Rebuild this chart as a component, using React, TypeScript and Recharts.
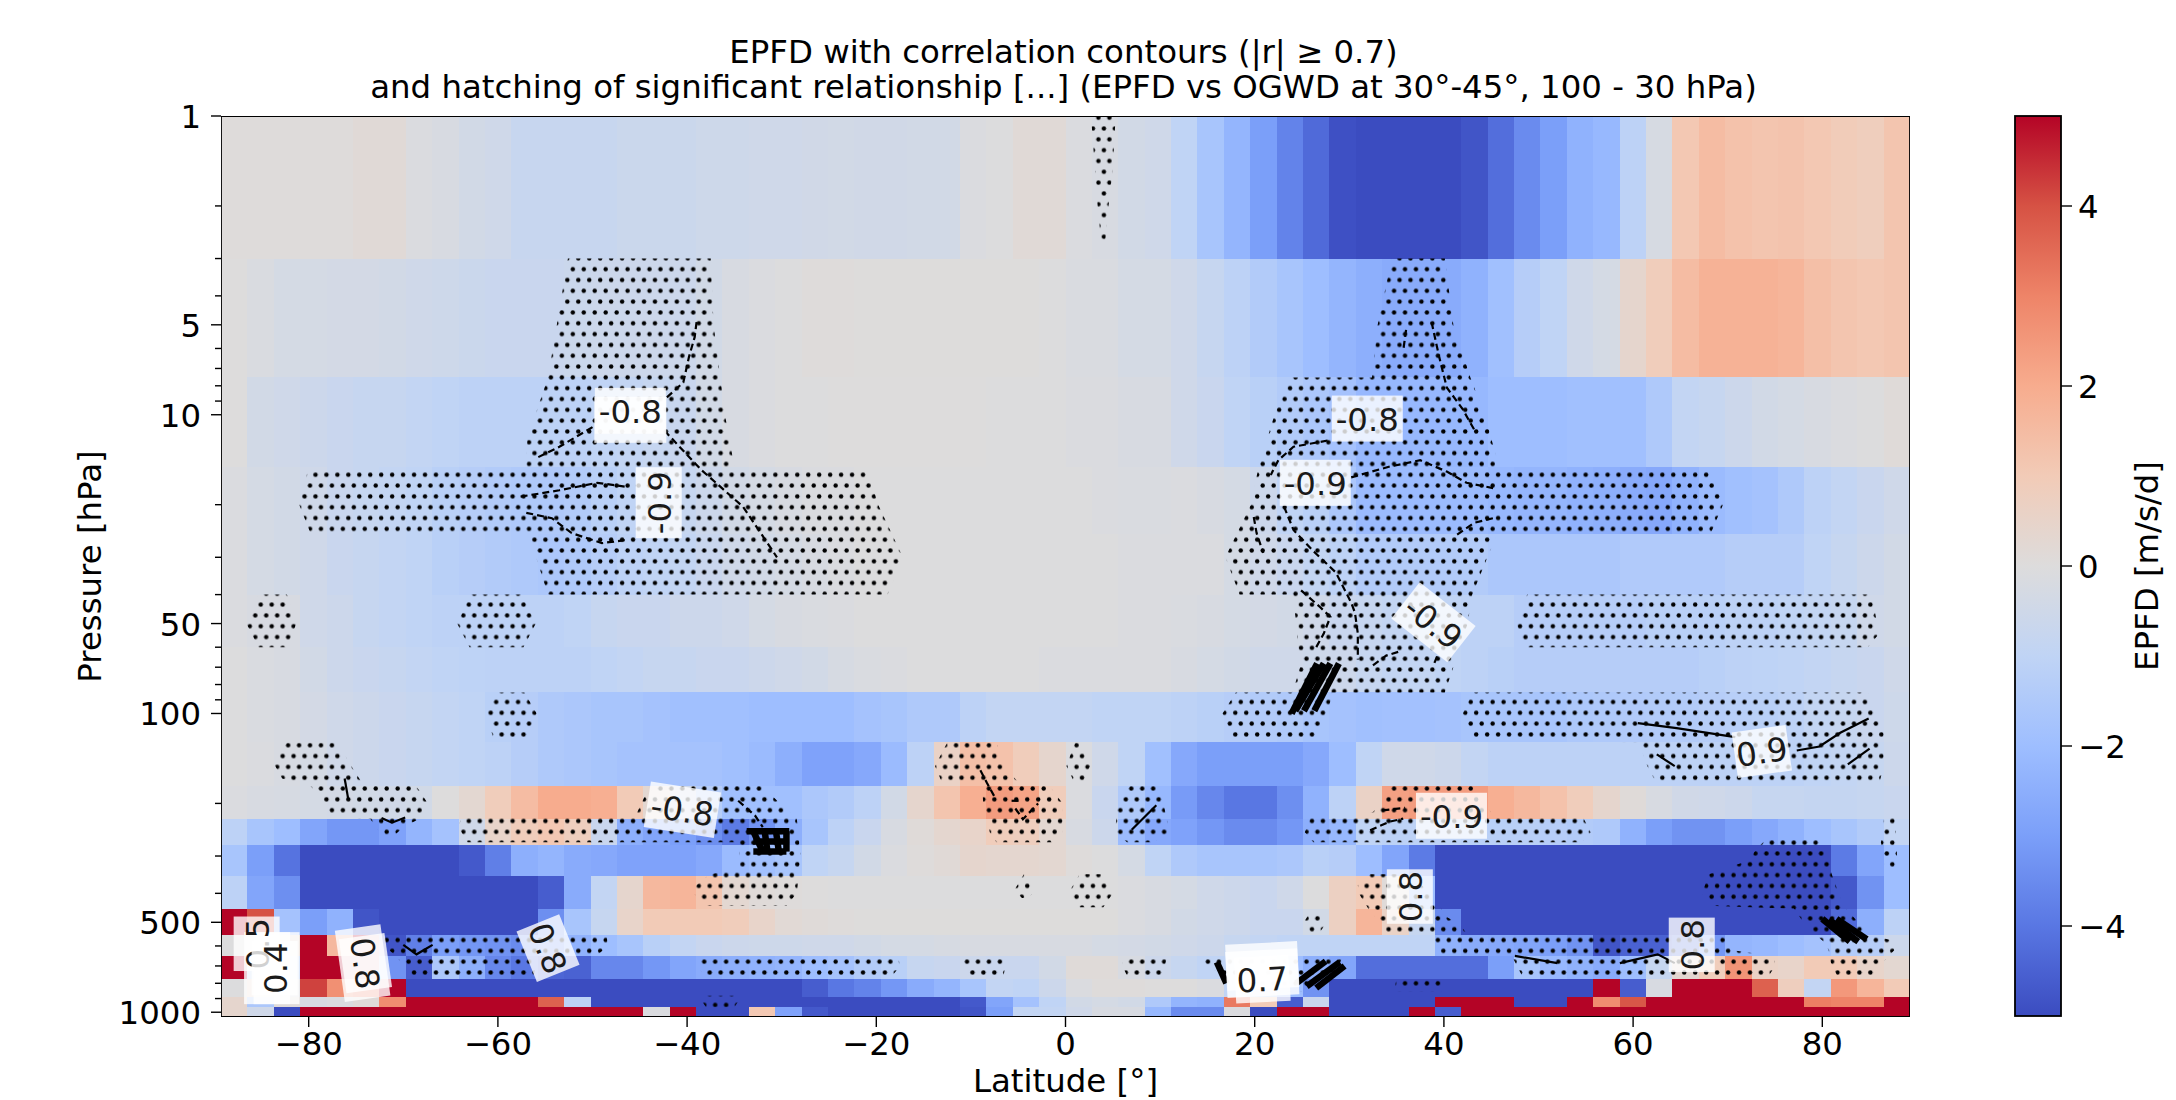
import React from "react";
import { ScatterChart, Scatter, XAxis, YAxis } from "recharts";

const FONT = "'DejaVu Sans', sans-serif";
const TEXT_SIZE = 32.4;

// cell edges of the pcolormesh
const latEdges = [
  -89.27, -86.48, -83.69, -80.9, -78.11, -75.32, -72.53, -69.74, -66.95, -64.16, -61.37, -58.58, -55.79, -53, -50.21, -47.42,
  -44.63, -41.84, -39.05, -36.26, -33.47, -30.68, -27.89, -25.1, -22.31, -19.52, -16.73, -13.94, -11.15, -8.37, -5.58, -2.79,
  0, 2.79, 5.58, 8.37, 11.15, 13.94, 16.73, 19.52, 22.31, 25.1, 27.89, 30.68, 33.47, 36.26, 39.05, 41.84,
  44.63, 47.42, 50.21, 53, 55.79, 58.58, 61.37, 64.16, 66.95, 69.74, 72.53, 75.32, 78.11, 80.9, 83.69, 86.48, 89.27,
];
const pressureEdges = [1, 3, 7.5, 15, 25, 40, 60, 85, 125, 175, 225, 275, 350, 450, 550, 650, 775, 887.5, 962.5, 1037.5];

// EPFD [m/s/d], one list per pressure level, south to north
const epfd1 = [
  .06, .06, .06, .06, .06, .15, .15, -.1, -.2, -.4, -.5, -.75, -.75, -.75, -.75, -.65,
  -.65, -.65, -.55, -.55, -.5, -.5, -.45, -.4, -.45, -.45, -.4, -.4, -.1, -.05, .15, .15,
  -.1, -.2, -.4, -.5, -1, -1.7, -2.3, -3, -3.7, -4.3, -4.9, -5, -5, -5, -5, -4.8,
  -4.2, -3.5, -3, -2.4, -2.2, -1.1, -.25, 1.1, 1.5, 1.3, 1.2, 1.25, 1.1, .95, .85, 1.2,
];
const epfd5 = [
  0, -.15, -.3, -.3, -.35, -.35, -.4, -.5, -.55, -.65, -.7, -.7, -.7, -.65, -.6, -.6,
  -.6, -.6, -.4, -.2, -.1, -.05, .05, .05, .02, .02, .02, .02, .02, .02, .02, -.05,
  -.15, -.15, -.3, -.3, -.5, -.8, -1.1, -1.4, -1.7, -2, -2.3, -2.5, -2.6, -2.6, -2.6, -2.4,
  -1.9, -1.3, -1, -.5, -.3, .4, .9, 1.5, 1.8, 1.8, 1.8, 1.7, 1.4, 1.2, 1.1, 1.2,
];
const epfd10 = [
  0, -.4, -.5, -.6, -.7, -.8, -.8, -.9, -1, -1.1, -1.1, -1.1, -1.1, -1.1, -1, -.9,
  -.8, -.7, -.4, -.2, -.1, -.05, -.05, 0, 0, 0, 0, 0, 0, -.02, -.02, -.02,
  -.1, -.1, -.2, -.2, -.5, -.7, -1, -1.2, -1.4, -1.6, -1.8, -2.2, -2.2, -2.2, -2.2, -2.2,
  -2, -2, -2, -1.9, -1.9, -1.9, -1.5, -.9, -.8, -.6, -.4, -.3, -.2, -.1, -.05, .1,
];
const epfd20 = [
  -.1, -.3, -.4, -.5, -.7, -.8, -.9, -1, -1.2, -1.3, -1.4, -1.5, -1.5, -1.4, -1.2, -1,
  -.9, -.8, -.6, -.4, -.3, -.2, -.1, -.1, -.03, -.03, -.03, -.03, -.03, -.03, -.03, -.03,
  -.03, -.1, -.15, -.15, -.1, -.2, -.3, -.6, -1, -1.2, -1.6, -2.1, -2.1, -2.1, -2.1, -2.1,
  -2.2, -2.3, -2.3, -2.4, -2.5, -2.6, -2.7, -2.4, -2.1, -1.9, -1.8, -1.5, -1.1, -.9, -.7, -.5,
];
const epfd30 = [
  -.1, -.3, -.4, -.5, -.7, -.8, -.9, -1, -1.2, -1.3, -1.4, -1.5, -1.6, -1.5, -1.3, -1.1,
  -1, -.9, -.7, -.5, -.4, -.3, -.2, -.1, -.05, -.05, -.02, -.02, -.02, -.02, -.02, -.02,
  -.02, -.02, -.1, -.1, -.1, -.1, -.3, -.5, -.7, -.9, -1.1, -1.4, -1.4, -1.4, -1.4, -1.4,
  -1.6, -1.6, -1.6, -1.6, -1.6, -1.45, -1.45, -1.45, -1.45, -1.3, -1.3, -1.3, -1, -.8, -.6, -.4,
];
const epfd50 = [
  -.1, -.2, -.2, -.5, -.6, -.8, -.9, -1, -1.1, -1.1, -1.1, -1.1, -1.1, -1, -.8, -.7,
  -.7, -.6, -.6, -.5, -.3, -.2, -.15, -.1, -.05, -.02, -.02, -.02, -.02, -.03, -.03, -.03,
  -.03, -.03, -.1, -.1, -.15, -.2, -.3, -.35, -.4, -.5, -.7, -.8, -.9, -1, -1, -1.1,
  -1.1, -1.3, -1.3, -1.3, -1.3, -1.3, -1.2, -1.2, -1.2, -1.1, -1.1, -1, -.9, -.8, -.5, -.4,
];
const epfd70 = [
  -.05, -.15, -.2, -.4, -.6, -.7, -.8, -.9, -1, -1.05, -1.1, -1.1, -1.1, -1.1, -1, -.9,
  -.8, -.8, -.7, -.7, -.6, -.5, -.4, -.25, -.15, -.1, -.05, -.05, -.02, -.03, -.03, -.1,
  -.1, -.1, -.1, -.1, -.2, -.3, -.4, -.5, -.5, -.55, -.6, -.8, -.9, -.9, -1, -1.1,
  -1.2, -1.3, -1.3, -1.3, -1.3, -1.3, -1.3, -1.3, -1.2, -1.1, -1.05, -1, -.9, -.8, -.7, -.5,
];
const epfd100 = [
  -.05, -.15, -.2, -.35, -.5, -.6, -.7, -.8, -.9, -1, -1.2, -1.3, -1.5, -1.6, -1.7, -1.7,
  -1.8, -1.9, -1.9, -1.9, -2, -2, -2, -2, -1.8, -1.7, -1.5, -1.5, -1.1, -.9, -.9, -.9,
  -.9, -1, -1, -1, -1.1, -1.2, -1.3, -1.4, -1.5, -1.7, -1.8, -1.9, -1.85, -1.85, -1.8, -1.7,
  -1.7, -1.7, -1.7, -1.55, -1.5, -1.45, -1.4, -1.4, -1.3, -1.25, -1.2, -1.1, -.9, -.8, -.7, -.55,
];
const epfd150 = [
  -.05, -.1, -.2, -.3, -.5, -.6, -.7, -.8, -.9, -1, -1.1, -1.3, -1.5, -1.6, -1.7, -1.8,
  -1.8, -1.8, -1.8, -1.9, -2.1, -2.5, -2.9, -2.9, -2.7, -2.1, -1.1, .6, 1.4, 1.3, .9, .4,
  -.1, -.5, -1, -1.9, -2.7, -3, -3, -3, -3, -2.7, -2, -1, -.5, -.5, -.6, -.9,
  -1.1, -1.1, -1.1, -1.1, -1.1, -1.1, -1.1, -1.1, -1.1, -1.1, -1.1, -1.1, -1, -.9, -.8, -.6,
];
const epfd200 = [
  -.1, -.2, -.25, -.3, -.35, -.4, -.45, -.4, 0, .3, .9, 1.5, 2, 2, 1.9, 1,
  .3, -.5, -1.3, -1.9, -1.9, -1.9, -1.6, -1.4, -1.1, -.4, .4, 1.2, 1.9, 2.4, 2.2, .9,
  -.1, -.7, -1.5, -2.2, -3.1, -3.6, -4, -4, -3.4, -2.4, -1.1, .6, 2.3, 2.4, 2.4, 2.4,
  1.9, 1.6, 1.3, .9, .4, .1, -.2, -.45, -.5, -.6, -.8, -.8, -.85, -.85, -.8, -.7,
];
const epfd250 = [
  -1.1, -1.7, -2, -2.8, -3.2, -3.2, -2.9, -2.3, -1.8, -.5, .5, .9, 1.1, .8, -.7, -2.5,
  -2.8, -3, -3.4, -3.9, -3.3, -2.5, -1.7, -1.1, -.7, -.2, .1, .35, .5, .9, .8, .3,
  -.2, -.6, -2.1, -2.7, -2.9, -3.2, -3.5, -3.5, -3.2, -2.5, -2.2, -1, -1.1, -1.1, -1.1, -1.2,
  -1.2, -1.2, -1.3, -1.4, -1.5, -2.4, -3, -3.3, -3.3, -3, -2.7, -2.4, -2, -1.7, -1.4, -.9,
];
const epfd300 = [
  -1.7, -3, -4.1, -5, -5, -5, -5, -5, -5, -4.7, -3.8, -2.5, -2.3, -2.6, -2.7, -2.9,
  -2.9, -2.9, -2.7, -2.1, -1.9, -1.7, -1, -.8, -.4, -.1, .05, .15, .4, .35, .35, .3,
  .05, -.05, -.3, -1, -1.5, -1.7, -1.7, -1.7, -1.6, -1.2, -1.3, -2, -2.8, -3.9, -5, -5,
  -5, -5, -5, -5, -5, -5, -5, -5, -5, -5, -5, -5, -5, -3.9, -2.8, -2,
];
const epfd400 = [
  -1.1, -2.8, -3.4, -5, -5, -5, -5, -5, -5, -5, -5, -5, -4.6, -2.6, -.9, .4,
  1.6, 1.7, 1.2, .3, .1, .05, 0, -.03, -.03, -.03, -.03, -.03, -.03, -.05, -.05, -.05,
  -.05, -.05, -.1, -.2, -.3, -.5, -.6, -.7, -.5, -.05, .7, 1, .1, -2, -5, -5,
  -5, -5, -5, -5, -5, -5, -5, -5, -5, -5, -5, -5, -5, -4.7, -3.3, -2,
];
const epfd500 = [
  5, 4, -1.8, -3, -2.4, -4.8, -5, -5, -5, -5, -5, -5, -3.4, -1.7, -.8, .5,
  1, 1, 1, .9, .5, .2, .1, .05, .02, .02, .02, .02, .02, .02, .02, .02,
  .02, .02, -.1, -.2, -.4, -.5, -.6, -.7, -.7, -.4, .7, 1.7, .6, -.8, -3.5, -5,
  -5, -5, -5, -5, -5, -5, -5, -5, -5, -5, -5, -5, -5, -4.3, -2.5, -1.1,
];
const epfd600 = [
  -.03, -.2, .4, 5, 1.6, 5, -4.8, -3.8, -3, -3.2, -3.3, -3.5, -3.2, -2.4, -2, -1.7,
  -1.2, -.9, -.7, -.6, -.55, -.55, -.5, -.5, -.4, -.3, -.3, -.25, -.2, -.2, -.2, -.2,
  -.2, -.3, -.35, -.4, -.5, -.6, -.8, -.9, -1, -1, -1, -1, -1, -1, -2.4, -2.6,
  -2.7, -2.8, -3, -3.3, -4.8, -4.5, -4.5, -4.2, -3.2, -2.3, -2.2, -2, -1.8, -1.4, -1.3, -.6,
];
const epfd700 = [
  5, -1, -1, 5, 5, 5, -3.3, -4.6, -1.6, -2.5, -3.6, -4, -4.4, -4.5, -3.6, -3.6,
  -3.2, -2.8, -2.6, -2.5, -2.4, -2.3, -2, -1.8, -1.4, -1.2, -.8, -.7, -.6, -.7, -.7, -.4,
  .1, .1, -.2, -.6, -.8, -1, -1, -1.5, -2, -2.5, -2.8, -4.2, -4.2, -4.2, -4.2, -4.2,
  -3, -1.7, -2.2, -2.4, -2.6, -2, -.8, .3, .9, 2.6, .6, .5, 1, 1, .5, .3,
];
const epfd850 = [
  -.02, .5, -.1, 4.2, 2.7, 3, 5, -5, -5, -5, -5, -5, -5, -5, -5, -5,
  -5, -5, -5, -5, -5, -5, -4.6, -4, -3.7, -3.2, -2.6, -2.3, -1.7, -.9, -1, -.6,
  -.1, .05, .05, 0, 0, -.1, -1, -1.1, -2, -3.3, -5, -5, -5, -5, -5, -5,
  -5, -5, -5, -5, 5, -4.6, -.2, 5, 5, 5, 3.7, .8, -.9, 2.5, 1.7, 1,
];
const epfd925 = [
  .4, -1.6, .1, -.2, -.1, .1, 2.8, 5, 5, 5, 5, 5, 3.7, -1.1, -5, -5,
  -5, -5, -5, -5, -5, -5, -5, -5, -5, -5, -5, -5, -4.7, -2.8, -1.8, -1,
  -.4, -.3, -.4, -1.5, -2.3, -2.4, 3.2, 1, -4.6, -.7, -5, -5, -5, -5, 5, 5,
  5, -5, -5, 5, 2.8, 3.9, 5, 5, 5, 5, 5, 5, 3.1, 3, 3, 5,
];
const epfd1000 = [
  .4, -.5, -5, 5, 5, 5, 5, 5, 5, 5, 5, 5, 5, 5, 5, 5,
  -.1, 5, -5, -5, 1.1, -2.9, -4.7, -5, -5, -5, -5, -5, -4.8, -3, -.9, -.9,
  -.5, -.2, -.2, -2.2, -3.5, -3.5, -.1, -5, 5, 5, -5, -5, -5, 5, -4.6, 5,
  5, 5, 5, 5, 5, 5, 5, 5, 5, 5, 5, 5, 5, 5, 5, 5,
];
const epfdRows = [
  epfd1, epfd5, epfd10, epfd20, epfd30, epfd50, epfd70, epfd100, epfd150, epfd200,
  epfd250, epfd300, epfd400, epfd500, epfd600, epfd700, epfd850, epfd925, epfd1000,
];

// areas of significant relationship, [lat, hPa]
const hatchAreas: number[][][] = [
  [[-52.6, 3], [-37.5, 3], [-37.2, 5], [-36.5, 7.5], [-36, 10], [-35, 15], [-21, 15], [-19.8, 20], [-17.2, 30], [-18.8, 40], [-54.7, 40], [-56.6, 26], [-57.5, 25], [-79.8, 25], [-81, 20], [-80, 15], [-57, 15], [-56.9, 12], [-54.7, 7.5]],
  [[34.5, 3], [40.1, 3], [41, 5], [42.8, 7.5], [44.3, 10], [45.6, 14], [45.8, 15], [68.2, 15], [69.5, 20], [68.2, 25], [45.6, 25], [45.4, 26], [43, 40], [42.5, 50], [41.7, 60], [40.1, 85], [28.2, 85], [27.7, 100], [26.6, 120], [17.7, 120], [16.6, 100], [18, 85], [24, 85], [24.8, 70], [24.4, 50], [24, 40], [18.4, 40], [16.9, 30], [19.6, 20], [20.4, 15], [22.1, 10], [23.7, 7.5], [32.4, 7.5], [33, 5]],
  [[2.7, 1], [5.3, 1], [5, 1.5], [4.4, 2.2], [4.1, 2.9], [3.9, 2.9], [3.4, 2]],
  [[-85.3, 40], [-82.3, 40], [-81.3, 50], [-82.3, 60], [-85.3, 60], [-86.6, 50]],
  [[-62.9, 40], [-57.5, 40], [-56, 50], [-57.3, 60], [-63, 60], [-64.3, 50]],
  [[-60, 85], [-57.2, 85], [-55.9, 100], [-57, 120], [-60.5, 120], [-61.3, 100]],
  [[-82.3, 125], [-77, 125], [-75.5, 150], [-74.3, 172], [-68.8, 172], [-67.4, 200], [-67.9, 222], [-70, 240], [-71.7, 270], [-72.5, 250], [-73.5, 225], [-77.5, 222], [-78.2, 200], [-79.8, 175], [-82.8, 165], [-83.8, 145]],
  [[-43.2, 175], [-32, 175], [-30.2, 200], [-28.4, 225], [-28, 300], [-28.4, 400], [-29.5, 440], [-38, 440], [-39.3, 400], [-39, 375], [-37.6, 345], [-34.4, 330], [-34.5, 270], [-63.2, 270], [-64.2, 240], [-63.8, 222], [-45.5, 222], [-44.5, 190]],
  [[-12.5, 125], [-7.3, 125], [-6.6, 150], [-4.8, 172], [-1.7, 175], [-.3, 200], [-.3, 250], [-1.3, 270], [-7.3, 270], [-8, 250], [-8.7, 200], [-8.8, 175], [-13, 172], [-13.8, 150]],
  [[1, 125], [1.7, 125], [2.6, 150], [1.8, 172], [1, 172], [.1, 150]],
  [[6.8, 175], [9.8, 175], [10.2, 190], [11, 250], [9.3, 270], [6.5, 270], [5.3, 250], [5.4, 200]],
  [[34.5, 175], [43, 175], [44.5, 200], [45.2, 222], [54.7, 222], [55.5, 250], [54.6, 270], [26.2, 270], [25.3, 250], [25.9, 222], [32.4, 215], [33.8, 195]],
  [[48.8, 40], [85.2, 40], [85.8, 50], [85.8, 55], [84.8, 60], [48.8, 60], [48, 55], [47.7, 50], [48.2, 45]],
  [[43, 85], [84.8, 85], [85.8, 100], [86.5, 110], [86.5, 150], [86, 172], [62.5, 172], [61.5, 150], [60.6, 125], [43, 122], [42, 100]],
  [[87.7, 220], [87.9, 300], [87.7, 340], [86.7, 335], [86.2, 270], [86.5, 225]],
  [[74, 265], [79.5, 265], [80.8, 300], [81, 345], [82.2, 440], [84.3, 520], [85, 550], [87.4, 575], [87.6, 620], [86.4, 680], [85.5, 760], [81.6, 760], [80.9, 680], [80.8, 640], [80.4, 590], [79, 540], [78, 500], [77, 450], [68, 440], [67.3, 400], [68, 345], [72.3, 310], [73, 285]],
  [[39, 545], [69.5, 545], [70.5, 620], [75, 650], [75, 700], [74.3, 760], [48.3, 760], [47.2, 650], [39.8, 640], [39, 590]],
  [[32.2, 345], [36.5, 345], [38.5, 400], [39.5, 440], [40.3, 480], [41.7, 510], [42.4, 545], [34.1, 545], [33.2, 500], [32, 450], [31, 400], [30.9, 375]],
  [[-72, 550], [-48.5, 550], [-48.4, 600], [-49.5, 645], [-55.8, 650], [-56.3, 775], [-69, 775], [-69.8, 700], [-71, 640], [-72, 600]],
  [[-38.7, 650], [-17.7, 650], [-17.5, 700], [-18.6, 775], [-38, 775], [-38.8, 700]],
  [[-38, 880], [-35, 880], [-34.6, 920], [-35, 962], [-38, 962], [-38.4, 920]],
  [[-10.5, 650], [-6.2, 650], [-6.6, 775], [-10, 775], [-11, 700]],
  [[6.2, 650], [10.7, 650], [10.3, 775], [6.7, 775], [6, 700]],
  [[1.5, 345], [3.9, 345], [5, 400], [4, 445], [1.5, 445], [.3, 400]],
  [[-4.4, 345], [-4, 345], [-3.1, 390], [-4, 415], [-4.6, 415], [-5.4, 390]],
  [[26, 455], [26.7, 455], [27.6, 500], [26.8, 545], [26, 545], [25.2, 500]],
  [[14, 650], [29.3, 650], [28.5, 750], [26, 800], [25, 850], [18, 850], [17.5, 775], [15, 700]],
  [[35, 775], [40.3, 775], [39.8, 850], [34.7, 850]],
];

// correlation contours, negative levels are dashed
const negativeContours: number[][][] = [
  [[-39, 4.9], [-39.2, 5.5], [-39.8, 6.4], [-40.4, 7.8], [-42.4, 8.9]],
  [[-50, 11], [-53.5, 12.8], [-55.8, 13.9]],
  [[-42.4, 11.3], [-38.5, 15.3], [-34.1, 20.3], [-30.5, 30]],
  [[-57.6, 18.8], [-53.5, 17.9], [-49.5, 16.9], [-46.6, 17.4]],
  [[-57, 21.3], [-54.3, 22.2], [-52.2, 24.9], [-49, 26.9], [-46.6, 26.3]],
  [[38.7, 4.9], [39.5, 6.4], [40.3, 8.1], [42, 9.6], [43.4, 11.5]],
  [[36, 5.2], [35.7, 6.1]],
  [[27.7, 12.2], [24.1, 12.8], [22.5, 14.2], [21.7, 15.9]],
  [[30.2, 16.2], [34.3, 14.9], [37.5, 14.2], [40.3, 15.5], [42.4, 16.9], [45.2, 17.6]],
  [[41.4, 25.2], [43.2, 23], [45.2, 22.2]],
  [[23.1, 20.3], [24.1, 24.3], [26.1, 28.4], [28.6, 33.8], [30.2, 42.6], [30.6, 46], [30.9, 54], [30.9, 66]],
  [[19.9, 22], [20.2, 24.9], [20.9, 29]],
  [[24.9, 38.7], [26.9, 44], [28, 47.5], [27.3, 54], [26.5, 60]],
  [[39, 67.7], [39.4, 63]],
  [[32.5, 69], [33.9, 64], [35.3, 62]],
  [[36.4, 43], [37.3, 46]],
  [[-34.6, 196], [-32.8, 220], [-32, 240]],
  [[-9, 155], [-8.3, 171], [-7.5, 190]],
  [[-5.7, 196], [-4.6, 196]],
  [[-5.3, 208], [-4.5, 226], [-2.9, 200]],
  [[33.5, 211], [35.9, 207]],
  [[32.2, 246], [34.3, 230], [35.7, 225]],
];
const positiveContours: number[][][] = [
  [[60.5, 107.7], [64.6, 112], [70.8, 120]],
  [[77.3, 133], [79.7, 129], [81.9, 116], [84.9, 104]],
  [[62.5, 137], [64.4, 150]],
  [[82.7, 148], [85, 131]],
  [[-76.2, 165], [-75.8, 195]],
  [[-72.3, 224], [-71.2, 232], [-69.8, 223]],
  [[-70, 595], [-68.6, 640], [-66.9, 595]],
  [[7, 245], [9.6, 203]],
  [[47.5, 648], [52, 685]],
  [[58.6, 685], [62.6, 640], [64.4, 685]],
];
// places where many contours crowd together and read as a black patch
const crowdedContours: number[][][] = [
  [[26.6, 68], [23.9, 100]],
  [[27.3, 68], [24.3, 98]],
  [[28, 68], [25.2, 98]],
  [[28.9, 68], [26.3, 98]],
  [[-33.7, 248], [-29.2, 248]],
  [[-33, 248], [-32, 290]],
  [[-31.8, 248], [-31.5, 290]],
  [[-30.6, 248], [-30.3, 290]],
  [[-29.5, 248], [-29.5, 290]],
  [[-33, 290], [-29.5, 290]],
  [[-33, 268], [-29.5, 268]],
  [[80, 487], [82.9, 580]],
  [[80.7, 490], [83.8, 580]],
  [[81.5, 487], [84.7, 570]],
  [[16, 680], [17, 800]],
  [[24.4, 800], [27.5, 675]],
  [[25.5, 820], [29, 680]],
  [[26.5, 830], [29.5, 700]],
];

// white boxes left by labels that clabel stacked under another one
const labelGhosts = [
  { lat: -46, p: 10.4, angle: 0 },
  { lat: -84.4, p: 712, angle: -90 },
  { lat: -83.4, p: 712, angle: -90 },
  { lat: -74.3, p: 685, angle: 82 },
  { lat: 20.8, p: 700, angle: -3 },
  { lat: 20.8, p: 740, angle: -3 },
];
const contourLabels = [
  { lat: -46, p: 9.7, text: "-0.8", angle: 0 },
  { lat: -43, p: 19.7, text: "-0.9", angle: -90 },
  { lat: 31.9, p: 10.3, text: "-0.8", angle: 0 },
  { lat: 26.4, p: 16.9, text: "-0.9", angle: 0 },
  { lat: 38.9, p: 49.5, text: "-0.9", angle: 38 },
  { lat: 73.6, p: 134, text: "0.9", angle: -8 },
  { lat: 40.8, p: 220, text: "-0.9", angle: 0 },
  { lat: -40.5, p: 210, text: "-0.8", angle: 9 },
  { lat: 36.4, p: 410, text: "0.8", angle: -90 },
  { lat: 66.2, p: 595, text: "0.8", angle: -90 },
  { lat: 20.8, p: 775, text: "0.7", angle: -3 },
  { lat: -54.7, p: 610, text: "0.8", angle: 68 },
  { lat: -74, p: 685, text: "0.8", angle: 82 },
  { lat: -85.5, p: 590, text: "0.5", angle: -90 },
  { lat: -83.6, p: 712, text: "0.4", angle: -90 },
];

const latTicks = [-80, -60, -40, -20, 0, 20, 40, 60, 80];
const pressureMajor = [1, 5, 10, 50, 100, 500, 1000];
const pressureTicks = [1, 2, 3, 4, 5, 6, 7, 8, 9, 10, 20, 30, 40, 50, 60, 70, 80, 90, 100, 200, 300, 400, 500, 600, 700, 800, 900, 1000];
const colorTicks = [-4, -2, 0, 2, 4];

// matplotlib coolwarm sampled at -5, -4 ... 5
const coolwarm = ["#3b4cc0", "#5977e3", "#7b9ff9", "#9ebeff", "#c0d4f5", "#dddcdc", "#f2cbb7", "#f7ac8e", "#ee8468", "#d65244", "#b40426"];

function hexRgb(hex: string) {
  return [1, 3, 5].map((i) => parseInt(hex.slice(i, i + 2), 16));
}

function valueColor(v: number) {
  const t = Math.max(0, Math.min(9.9999, v + 5));
  const i = Math.floor(t);
  const a = hexRgb(coolwarm[i]);
  const b = hexRgb(coolwarm[i + 1]);
  const f = t - i;
  return `rgb(${a.map((c, k) => Math.round(c + (b[k] - c) * f)).join(",")})`;
}

const toPoints = (area: number[][]) => area.map(([lat, p]) => ({ lat, p }));

const gridCorners = pressureEdges.flatMap((p) => latEdges.map((lat) => ({ lat, p })));
const frameCorners = [
  { lat: latEdges[0], p: 1 },
  { lat: latEdges[64], p: 1 },
  { lat: latEdges[64], p: 1037.5 },
  { lat: latEdges[0], p: 1037.5 },
];
const colorBarCorners = [
  { x: 0, v: 5 },
  { x: 1, v: 5 },
  { x: 1, v: -5 },
  { x: 0, v: -5 },
];

const NoDot = () => <g />;

function MeshCells({ points }: any) {
  const nx = latEdges.length;
  return (
    <g shapeRendering="crispEdges">
      {epfdRows.map((row, r) =>
        row.map((v, c) => {
          const a = points[r * nx + c];
          const b = points[(r + 1) * nx + c + 1];
          return <rect key={`${r}-${c}`} x={a.x} y={a.y} width={b.x - a.x + 0.5} height={b.y - a.y + 0.5} fill={valueColor(v)} />;
        })
      )}
    </g>
  );
}

function polygonPath(points: any[]) {
  return points.map((pt, i) => `${i ? "L" : "M"}${pt.x},${pt.y}`).join(" ") + " Z";
}

const HatchFill = ({ points }: any) => <path d={polygonPath(points)} fill="url(#dotHatch)" stroke="none" />;
const FrameBox = ({ points }: any) => <path d={polygonPath(points)} fill="none" stroke="#000" strokeWidth={1.8} />;

function GhostBox({ cx, cy, payload }: any) {
  return (
    <g transform={`translate(${cx},${cy}) rotate(${payload.angle})`}>
      <rect x={-36} y={-23} width={72} height={46} fill="#fff" fillOpacity={0.8} />
    </g>
  );
}

function ContourLabel({ cx, cy, payload }: any) {
  const w = payload.text.length * 16.5 + 5;
  return (
    <g transform={`translate(${cx},${cy}) rotate(${payload.angle})`}>
      <rect x={-w / 2} y={-23} width={w} height={46} fill="#fff" fillOpacity={0.8} />
      <text textAnchor="middle" dy={12} fontSize={TEXT_SIZE} fontFamily={FONT} fill="#1a1a1a">
        {payload.text}
      </text>
    </g>
  );
}

function PressureTick({ x, y, payload }: any) {
  const major = pressureMajor.includes(payload.value);
  return (
    <g>
      <line x1={x} x2={x - (major ? 10 : 6)} y1={y} y2={y} stroke="#000" strokeWidth={1.4} />
      {major && (
        <text x={x - 20} y={y} dy={12} textAnchor="end" fontSize={TEXT_SIZE} fontFamily={FONT} fill="#000">
          {payload.value}
        </text>
      )}
    </g>
  );
}

function ColorBar({ points }: any) {
  const [a, , b] = points;
  return (
    <g>
      <defs>
        <linearGradient id="coolwarmBar" x1="0" y1="1" x2="0" y2="0">
          {coolwarm.map((c, i) => (
            <stop key={c} offset={`${i * 10}%`} stopColor={c} />
          ))}
        </linearGradient>
      </defs>
      <rect x={a.x} y={a.y} width={b.x - a.x} height={b.y - a.y} fill="url(#coolwarmBar)" stroke="#000" strokeWidth={1.8} />
    </g>
  );
}

const formatMinus = (v: number) => String(v).replace("-", "\u2212");

export default function App() {
  return (
    <div style={{ position: "absolute", left: 0, top: 0, width: 2176, height: 1100, background: "#fff", fontFamily: FONT }}>
      <div style={{ position: "absolute", left: 0, width: 2127, top: 35, textAlign: "center", fontSize: TEXT_SIZE, lineHeight: "35px", color: "#000", whiteSpace: "pre" }}>
        {"EPFD with correlation contours (|r| \u2265 0.7)\nand hatching of significant relationship [...] (EPFD vs OGWD at 30\u00b0-45\u00b0, 100 - 30 hPa)"}
      </div>
      <div style={{ position: "absolute", left: 0, top: 0 }}>
        <ScatterChart width={2176} height={1100} margin={{ top: 116, right: 266, bottom: 23, left: 121 }}>
          <defs>
            <pattern id="dotHatch" patternUnits="userSpaceOnUse" width={10.95} height={21.64} x={384} y={934.6}>
              <circle cx={2.7} cy={5.4} r={2.2} fill="#000" />
              <circle cx={8.17} cy={16.22} r={2.2} fill="#000" />
            </pattern>
          </defs>
          <XAxis
            type="number"
            dataKey="lat"
            domain={[latEdges[0], latEdges[64]]}
            allowDataOverflow
            ticks={latTicks}
            interval={0}
            height={60}
            tickSize={10}
            tickMargin={5}
            axisLine={false}
            tickLine={{ stroke: "#000", strokeWidth: 1.4 }}
            tick={{ fontSize: TEXT_SIZE, fill: "#000", fontFamily: FONT }}
            tickFormatter={formatMinus}
            label={{ value: "Latitude [\u00b0]", position: "insideBottom", offset: -15, fontSize: TEXT_SIZE, fill: "#000", fontFamily: FONT }}
          />
          <YAxis
            type="number"
            dataKey="p"
            scale="log"
            reversed
            domain={[1, 1037.5]}
            allowDataOverflow
            ticks={pressureTicks}
            interval={0}
            width={100}
            tickSize={0}
            tickMargin={0}
            axisLine={false}
            tickLine={false}
            tick={PressureTick}
            label={{ value: "Pressure [hPa]", angle: -90, position: "insideLeft", offset: -32, style: { textAnchor: "middle" }, fontSize: TEXT_SIZE, fill: "#000", fontFamily: FONT }}
          />
          <Scatter data={gridCorners} shape={NoDot} line={MeshCells} isAnimationActive={false} />
          {hatchAreas.map((area, i) => (
            <Scatter key={`hatch${i}`} data={toPoints(area)} shape={NoDot} line={HatchFill} isAnimationActive={false} />
          ))}
          {negativeContours.map((c, i) => (
            <Scatter key={`neg${i}`} data={toPoints(c)} shape={NoDot} line={{ stroke: "#000", strokeWidth: 2.2, strokeDasharray: "7 4" }} isAnimationActive={false} />
          ))}
          {positiveContours.map((c, i) => (
            <Scatter key={`pos${i}`} data={toPoints(c)} shape={NoDot} line={{ stroke: "#000", strokeWidth: 2.2 }} isAnimationActive={false} />
          ))}
          {crowdedContours.map((c, i) => (
            <Scatter key={`dense${i}`} data={toPoints(c)} shape={NoDot} line={{ stroke: "#000", strokeWidth: 6.5 }} isAnimationActive={false} />
          ))}
          <Scatter data={labelGhosts} shape={GhostBox} isAnimationActive={false} />
          <Scatter data={contourLabels} shape={ContourLabel} isAnimationActive={false} />
          <Scatter data={frameCorners} shape={NoDot} line={FrameBox} isAnimationActive={false} />
        </ScatterChart>
      </div>
      <div style={{ position: "absolute", left: 0, top: 0 }}>
        <ScatterChart width={2176} height={1100} margin={{ top: 116, right: 35, bottom: 84, left: 2015 }}>
          <XAxis type="number" dataKey="x" domain={[0, 1]} hide />
          <YAxis
            type="number"
            dataKey="v"
            orientation="right"
            domain={[-5, 5]}
            ticks={colorTicks}
            interval={0}
            width={80}
            tickSize={11}
            tickMargin={6}
            axisLine={false}
            tickLine={{ stroke: "#000", strokeWidth: 1.4 }}
            tick={{ fontSize: TEXT_SIZE, fill: "#000", fontFamily: FONT }}
            tickFormatter={formatMinus}
            label={{ value: "EPFD [m/s/d]", angle: -90, position: "insideRight", offset: -5, style: { textAnchor: "middle" }, fontSize: TEXT_SIZE, fill: "#000", fontFamily: FONT }}
          />
          <Scatter data={colorBarCorners} shape={NoDot} line={ColorBar} isAnimationActive={false} />
        </ScatterChart>
      </div>
    </div>
  );
}
